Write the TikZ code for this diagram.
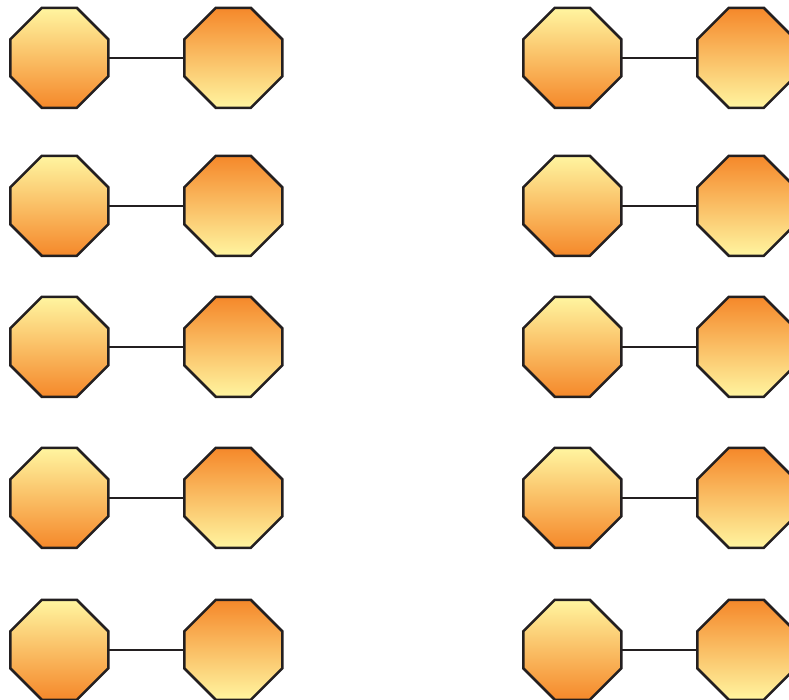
\documentclass[tikz,border=0pt]{standalone}
\usetikzlibrary{calc}
\definecolor{octyellow}{HTML}{FFF5A0}
\definecolor{octorange}{HTML}{F5882A}
\definecolor{octline}{HTML}{231F20}
\tikzset{
  octo/.style={rectangle, inner sep=0pt, minimum width=98pt, minimum height=100pt},
  octborder/.style={draw=octline, line width=2.5pt, line join=miter},
  octup/.style={octborder, top color=octyellow, bottom color=octorange},
  octdown/.style={octborder, top color=octorange, bottom color=octyellow},
  link/.style={draw=octline, line width=2pt}
}
\newcommand\drawocto[2]{%
  \path[#2] ($(#1.north west)+(31.5,0)$) -- ++(35,0) -- ++(31.5,31.5)
    -- ++(0,37) -- ++(-31.5,31.5) -- ++(-35,0) -- ++(-31.5,-31.5)
    -- ++(0,-37) -- cycle;}
\begin{document}
\begin{tikzpicture}[x=1pt,y=-1pt]
\useasboundingbox (0,0) rectangle (789,699);
\foreach \r/\y in {1/58,2/206,3/347,4/498,5/650}{
  \node[octo] (la\r) at (59.5,\y) {};
  \node[octo] (lb\r) at (233.5,\y) {};
  \node[octo] (ra\r) at (572.5,\y) {};
  \node[octo] (rb\r) at (746.5,\y) {};
  \draw[link] (la\r) -- (lb\r);
  \draw[link] (ra\r) -- (rb\r);
  \drawocto{la\r}{octup}
  \drawocto{lb\r}{octdown}
  \drawocto{ra\r}{octup}
  \drawocto{rb\r}{octdown}
}
\end{tikzpicture}
\end{document}
